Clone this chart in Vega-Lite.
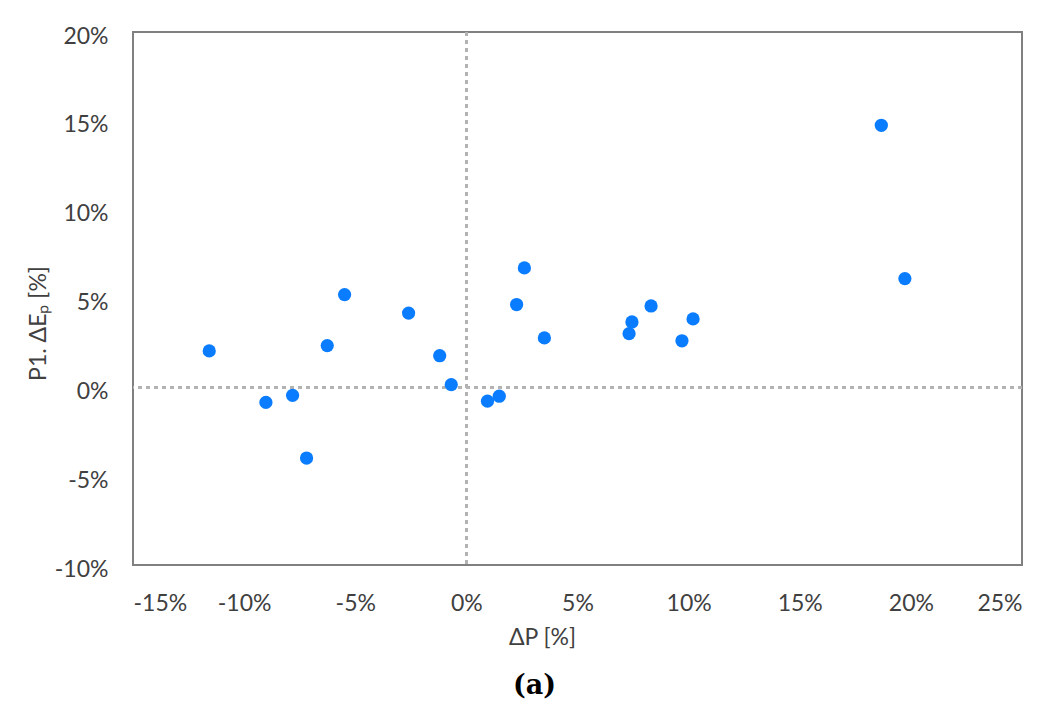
{
  "$schema": "https://vega.github.io/schema/vega-lite/v6.json",
  "width": 889,
  "height": 533,
  "autosize": "none",
  "padding": {"left": 133, "top": 32, "right": 35, "bottom": 137},
  "background": "white",
  "title": {
    "text": "(a)",
    "orient": "bottom",
    "anchor": "middle",
    "dx": -43,
    "offset": 24,
    "font": "DejaVu Serif",
    "fontSize": 27,
    "fontWeight": "bold",
    "color": "#000000"
  },
  "config": {
    "view": {"stroke": "#808080", "strokeWidth": 2},
    "axis": {
      "labelFont": "Lato",
      "titleFont": "Lato",
      "labelFontSize": 23,
      "titleFontSize": 23,
      "labelColor": "#404040",
      "titleColor": "#404040",
      "titleFontWeight": "normal",
      "domain": false,
      "ticks": false,
      "grid": false
    }
  },
  "data": {
    "values": [
      {"dP": -11.57, "dE": 2.05},
      {"dP": -9.02, "dE": -0.85},
      {"dP": -7.82, "dE": -0.45},
      {"dP": -7.19, "dE": -3.98},
      {"dP": -6.26, "dE": 2.35},
      {"dP": -5.48, "dE": 5.22},
      {"dP": -2.60, "dE": 4.18},
      {"dP": -1.20, "dE": 1.78},
      {"dP": -0.68, "dE": 0.15},
      {"dP": 0.95, "dE": -0.78},
      {"dP": 1.48, "dE": -0.50},
      {"dP": 2.26, "dE": 4.66},
      {"dP": 2.61, "dE": 6.72},
      {"dP": 3.51, "dE": 2.78},
      {"dP": 7.32, "dE": 3.02},
      {"dP": 7.45, "dE": 3.68},
      {"dP": 8.31, "dE": 4.58},
      {"dP": 9.70, "dE": 2.62},
      {"dP": 10.20, "dE": 3.85},
      {"dP": 18.67, "dE": 14.75},
      {"dP": 19.73, "dE": 6.12}
    ]
  },
  "layer": [
    {
      "mark": {"type": "rule", "color": "#b3b3b3", "strokeWidth": 2, "strokeDash": [4, 4]},
      "encoding": {"x": {"datum": 0, "type": "quantitative"}}
    },
    {
      "mark": {"type": "rule", "color": "#b3b3b3", "strokeWidth": 2, "strokeDash": [4, 4]},
      "encoding": {"y": {"datum": 0, "type": "quantitative"}}
    },
    {
      "mark": {"type": "point", "filled": true, "shape": "circle", "size": 175, "color": "#0a7cff", "opacity": 1},
      "encoding": {
        "x": {
          "field": "dP",
          "type": "quantitative",
          "scale": {"domain": [-15, 25], "nice": false, "zero": false},
          "axis": {
            "values": [-15, -10, -5, 0, 5, 10, 15, 20, 25],
            "labelExpr": "datum.value + '%'",
            "labelPadding": 27,
            "title": "ΔP [%]",
            "titleX": 409,
            "titlePadding": 11
          }
        },
        "y": {
          "field": "dE",
          "type": "quantitative",
          "scale": {"domain": [-10, 20], "nice": false, "zero": false},
          "axis": {
            "values": [-10, -5, 0, 5, 10, 15, 20],
            "labelExpr": "datum.value + '%'",
            "labelPadding": 25,
            "labelOffset": 4,
            "title": "P1. ΔEₚ [%]",
            "titleY": 291,
            "titlePadding": 4
          }
        }
      }
    }
  ]
}
